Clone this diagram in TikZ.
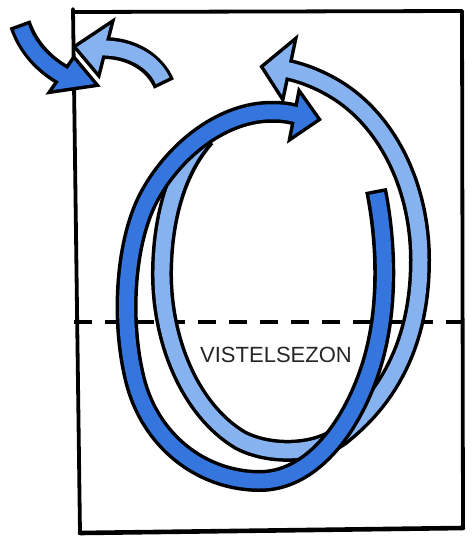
\documentclass[tikz,border=0pt]{standalone}
\usepackage{fontspec}
\setmainfont{Liberation Sans}
\definecolor{dblue}{RGB}{52,118,222}
\definecolor{lblue}{RGB}{135,178,240}
\begin{document}
\begin{tikzpicture}[x=1pt,y=-1pt,line join=round,
  bandout/.style={line width=22pt,black},
  bandin/.style={line width=15pt,shorten <=3.5pt},
  headout/.style={draw=black,fill=black,line width=7pt,line join=miter},
  boxline/.style={line width=3.8pt,black,line cap=round}]
\useasboundingbox (0,0) rectangle (472,538);
% frame
\draw[boxline] (73,9) -- (80,533);
\draw[boxline] (73,12) -- (462,11);
\draw[boxline] (462,11) -- (463,528);
\draw[boxline,line width=4.6pt] (80,533) -- (463,528);
% season line
\draw[line width=4.4pt,dash pattern=on 18pt off 13pt] (74,322) -- (462,322);
% light loop
\def\lightloop{(205,137) .. controls (180,165) and (163,210) .. (162,270)
  .. controls (161,340) and (190,410) .. (240,440)
  .. controls (270,456) and (320,455) .. (345,432)
  .. controls (390,395) and (420,340) .. (420,260)
  .. controls (420,190) and (390,125) .. (340,92)
  .. controls (320,79) and (300,72) .. (284,69)}
\draw[bandout] \lightloop;
\draw[headout] (293,43) -- (264,67) -- (282,95) -- cycle;
\draw[bandin,lblue] \lightloop;
\fill[lblue] (293,43) -- (264,67) -- (282,95) -- cycle;
% dark loop
\def\darkloop{(376,190) .. controls (386,240) and (390,310) .. (370,370)
  .. controls (350,430) and (310,482) .. (258,481)
  .. controls (200,480) and (150,440) .. (135,380)
  .. controls (120,320) and (125,240) .. (150,195)
  .. controls (175,150) and (220,115) .. (265,112)
  .. controls (280,111) and (292,113) .. (300,116)}
\draw[bandout] \darkloop;
\draw[headout] (300,95) -- (317,119) -- (292,136) -- cycle;
\draw[bandin,dblue] \darkloop;
\fill[dblue] (300,95) -- (317,119) -- (292,136) -- cycle;
% small dark arrow
\draw[bandout] (20,24) .. controls (28,48) and (45,66) .. (68,78);
\draw[headout] (53,90) -- (74,60) -- (94,84) -- cycle;
\draw[bandin,dblue] (20,24) .. controls (28,48) and (45,66) .. (68,78);
\fill[dblue] (53,90) -- (74,60) -- (94,84) -- cycle;
% small light arrow
\draw[bandout] (164,84) .. controls (155,63) and (132,47) .. (100,48);
\draw[headout] (110,25) -- (77,47) -- (98,72) -- cycle;
\draw[bandin,lblue] (164,84) .. controls (155,63) and (132,47) .. (100,48);
\fill[lblue] (110,25) -- (77,47) -- (98,72) -- cycle;
% label
\node[font=\fontsize{22}{26}\selectfont,text=black!85,inner sep=0pt] (label) at (276,355) {VISTELSEZON};
\end{tikzpicture}
\end{document}
